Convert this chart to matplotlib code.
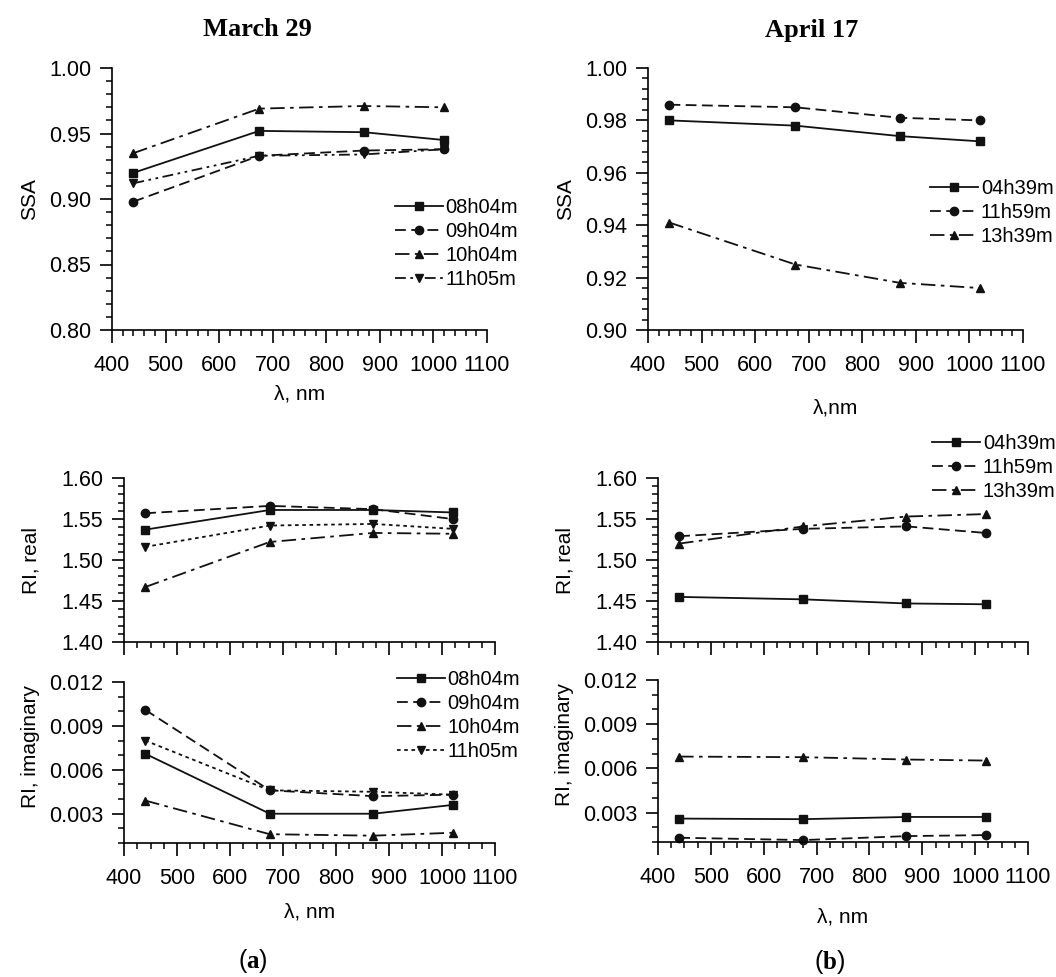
import matplotlib
matplotlib.use('Agg')
import matplotlib.pyplot as plt
from matplotlib.ticker import MultipleLocator, FormatStrFormatter

plt.rcParams['font.family'] = ['Liberation Sans', 'DejaVu Sans']
plt.rcParams['mathtext.fontset'] = 'custom'
plt.rcParams['mathtext.rm'] = 'Liberation Serif'
plt.rcParams['mathtext.bf'] = 'Liberation Serif:bold'

wl = [440, 675, 870, 1020]

# March 29
mar_times = ['08h04m', '09h04m', '10h04m', '11h05m']
mar_ssa = [
    [0.920, 0.952, 0.951, 0.945],
    [0.898, 0.933, 0.937, 0.938],
    [0.935, 0.969, 0.971, 0.970],
    [0.912, 0.933, 0.934, 0.938],
]
mar_ri_real = [
    [1.537, 1.561, 1.561, 1.558],
    [1.557, 1.566, 1.562, 1.550],
    [1.467, 1.522, 1.533, 1.532],
    [1.516, 1.542, 1.544, 1.538],
]
mar_ri_imag = [
    [0.0071, 0.0030, 0.0030, 0.0036],
    [0.0101, 0.0046, 0.0042, 0.0043],
    [0.0039, 0.0016, 0.0015, 0.0017],
    [0.0080, 0.0046, 0.0045, 0.0043],
]

# April 17
apr_times = ['04h39m', '11h59m', '13h39m']
apr_ssa = [
    [0.980, 0.978, 0.974, 0.972],
    [0.986, 0.985, 0.981, 0.980],
    [0.941, 0.925, 0.918, 0.916],
]
apr_ri_real = [
    [1.455, 1.452, 1.447, 1.446],
    [1.529, 1.538, 1.541, 1.533],
    [1.520, 1.541, 1.553, 1.556],
]
apr_ri_imag = [
    [0.00259, 0.00255, 0.0027, 0.0027],
    [0.00129, 0.00113, 0.0014, 0.00147],
    [0.0068, 0.00676, 0.0066, 0.00653],
]

markers = ['s', 'o', '^', 'v']
styles_top = ['-', (0, (6, 3)), (0, (8, 3, 2, 3)), (0, (6, 2.5, 1.5, 2.5, 1.5, 2.5))]
styles_bot = ['-', (0, (6, 3)), (0, (8, 3, 2, 3)), (0, (2, 2))]

W, H = 1056, 977
fig = plt.figure(figsize=(W / 100, H / 100), dpi=100)
TICK_FS = 15.5
LAB_FS = 15


def px_axes(l, t, r, b):
    return fig.add_axes([l / W, 1 - b / H, (r - l) / W, (b - t) / H])


def style(ax, ylim, ymaj, ymin, yfmt, xminor, xlabels=True):
    ax.set_xlim(400, 1100)
    ax.set_ylim(*ylim)
    for s in ['top', 'right']:
        ax.spines[s].set_visible(False)
    for s in ['left', 'bottom']:
        ax.spines[s].set_linewidth(1.2)
    ax.xaxis.set_major_locator(MultipleLocator(100))
    ax.xaxis.set_minor_locator(MultipleLocator(xminor))
    ax.yaxis.set_major_locator(MultipleLocator(ymaj))
    ax.yaxis.set_minor_locator(MultipleLocator(ymin))
    ax.yaxis.set_major_formatter(FormatStrFormatter(yfmt))
    ax.tick_params(which='major', direction='out', length=9, width=1.2,
                   labelsize=TICK_FS, pad=6)
    ax.tick_params(axis='x', which='major', pad=9)
    ax.tick_params(which='minor', direction='out', length=4.5, width=1.1)
    if not xlabels:
        ax.tick_params(axis='x', labelbottom=False)


def draw(ax, data, labels, lstyles, ms=6):
    for vals, lab, m, ls in zip(data, labels, markers, lstyles):
        ax.plot(wl, vals, color='#111111', linestyle=ls, marker=m,
                markersize=ms, linewidth=1.3, label=lab, clip_on=False)


def legend(ax, x, y):
    ax.legend(loc='upper left', bbox_to_anchor=(x / W, 1 - y / H),
              bbox_transform=fig.transFigure, frameon=False, fontsize=14.5,
              handlelength=2.4, handletextpad=0.12, labelspacing=0.25,
              borderpad=0, borderaxespad=0)


# ---- column (a)
ax1 = px_axes(112, 68, 487, 330)
draw(ax1, mar_ssa, mar_times, styles_top)
style(ax1, (0.80, 1.00), 0.05, 0.01, '%.2f', 20)
ax1.set_ylabel('SSA', fontsize=LAB_FS)
ax1.yaxis.set_label_coords(-0.195, 0.5)
ax1.set_xlabel('λ, nm', fontsize=LAB_FS, labelpad=6)
legend(ax1, 395, 198)

ax2 = px_axes(124, 478, 495, 642)
draw(ax2, mar_ri_real, mar_times, styles_bot)
style(ax2, (1.40, 1.60), 0.05, 0.01, '%.2f', 25, xlabels=False)
ax2.set_ylabel('RI, real', fontsize=LAB_FS)
ax2.yaxis.set_label_coords(-0.226, 0.5)

ax3 = px_axes(124, 682, 495, 843)
draw(ax3, mar_ri_imag, mar_times, styles_bot)
style(ax3, (0.001, 0.012), 0.003, 0.001, '%.3f', 25)
ax3.set_ylabel('RI, imaginary', fontsize=LAB_FS)
ax3.yaxis.set_label_coords(-0.226, 0.6)
ax3.set_xlabel('λ, nm', fontsize=LAB_FS, labelpad=10)
legend(ax3, 397, 670)

# ---- column (b)
ax4 = px_axes(648, 68, 1023, 330)
draw(ax4, apr_ssa, apr_times, styles_top)
style(ax4, (0.90, 1.00), 0.02, 0.004, '%.2f', 20)
ax4.set_ylabel('SSA', fontsize=LAB_FS)
ax4.yaxis.set_label_coords(-0.195, 0.5)
ax4.set_xlabel('λ,nm', fontsize=LAB_FS, labelpad=16)
legend(ax4, 930, 179)

ax5 = px_axes(658, 478, 1028, 642)
draw(ax5, apr_ri_real, apr_times, styles_bot)
style(ax5, (1.40, 1.60), 0.05, 0.01, '%.2f', 25, xlabels=False)
ax5.set_ylabel('RI, real', fontsize=LAB_FS)
ax5.yaxis.set_label_coords(-0.226, 0.5)
legend(ax5, 932, 434)

ax6 = px_axes(658, 680, 1028, 842)
draw(ax6, apr_ri_imag, apr_times, styles_bot)
style(ax6, (0.001, 0.012), 0.003, 0.001, '%.3f', 25)
ax6.set_ylabel('RI, imaginary', fontsize=LAB_FS)
ax6.yaxis.set_label_coords(-0.226, 0.6)
ax6.set_xlabel('λ, nm', fontsize=LAB_FS, labelpad=14)

# titles and panel letters
fig.text(257 / W, 1 - 30 / H, 'March 29', ha='center', va='center',
         family='Liberation Serif', weight='bold', fontsize=19)
fig.text(812 / W, 1 - 30 / H, 'April 17', ha='center', va='center',
         family='Liberation Serif', weight='bold', fontsize=19)
fig.text(253 / W, 1 - 961 / H, r'($\mathbf{a}$)', ha='center', va='center',
         fontsize=18)
fig.text(830 / W, 1 - 962 / H, r'($\mathbf{b}$)', ha='center', va='center',
         fontsize=18)

fig.savefig('out.png', dpi=100)
